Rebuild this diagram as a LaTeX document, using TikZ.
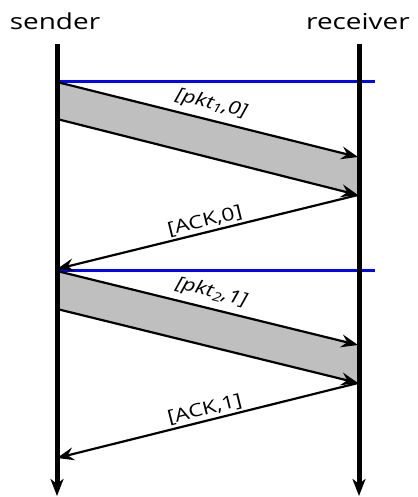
\documentclass[tikz,border=0pt]{standalone}
\usepackage{fontspec}
\setmainfont{Open Sans}
\usetikzlibrary{arrows.meta}
\newcommand{\wtext}[1]{\scalebox{1.27}[1]{#1}}
\begin{document}
\begin{tikzpicture}[x=1pt,y=1pt,
  head/.style={inner sep=0pt, font=\fontsize{22}{26}\selectfont},
  lbl/.style={sloped, above, inner sep=2pt, font=\fontsize{18}{22}\selectfont},
  pktlbl/.style={lbl, above=4pt},
  life/.style={line width=5pt, -{Stealth[length=17pt,width=13pt,inset=5pt]}},
  msg/.style={line width=2.2pt, -{Stealth[length=17pt,width=13pt,inset=6pt]}},
  tline/.style={line width=2.2pt, blue},
  pktfill/.style={fill=black!25, draw=none}]
\useasboundingbox (0,0) rectangle (417,-497);
% headings
\node[head, anchor=base] (snd) at (55,-29.3) {\wtext{sender}};
\node[head, anchor=base] (rcv) at (358,-29.3) {\wtext{receiver}};
% lifeline ends
\coordinate (sTop) at (57,-44);
\coordinate (sBot) at (57,-496);
\coordinate (rTop) at (359,-44);
\coordinate (rBot) at (359,-496);
% packet 1
\coordinate (p1a) at (57,-82);
\coordinate (p1b) at (358,-157);
\coordinate (p1c) at (57,-119);
\coordinate (p1d) at (358,-195);
\coordinate (a0) at (57,-269);
% packet 2
\coordinate (p2a) at (57,-271);
\coordinate (p2b) at (358,-345);
\coordinate (p2c) at (57,-309);
\coordinate (p2d) at (358,-383);
\coordinate (a1) at (57,-458);
% timer lines
\coordinate (b1s) at (57,-81.5);
\coordinate (b1e) at (375,-81.5);
\coordinate (b2s) at (57,-270.5);
\coordinate (b2e) at (375,-270.5);
% fills
\fill[pktfill] (p1a) -- (p1b) -- (p1d) -- (p1c) -- cycle;
\fill[pktfill] (p2a) -- (p2b) -- (p2d) -- (p2c) -- cycle;
% timer lines
\draw[tline] (b1s) -- (b1e);
\draw[tline] (b2s) -- (b2e);
% messages
\draw[msg] (p1a) -- node[pktlbl] {\wtext{\itshape [pkt\textsubscript{1},0]}} (p1b);
\draw[msg] (p1c) -- (p1d);
\draw[msg] (p1d) -- node[lbl] {\wtext{[ACK,0]}} (a0);
\draw[msg] (p2a) -- node[pktlbl] {\wtext{\itshape [pkt\textsubscript{2},1]}} (p2b);
\draw[msg] (p2c) -- (p2d);
\draw[msg] (p2d) -- node[lbl] {\wtext{[ACK,1]}} (a1);
% lifelines
\draw[life] (sTop) -- (sBot);
\draw[life] (rTop) -- (rBot);
\end{tikzpicture}
\end{document}
